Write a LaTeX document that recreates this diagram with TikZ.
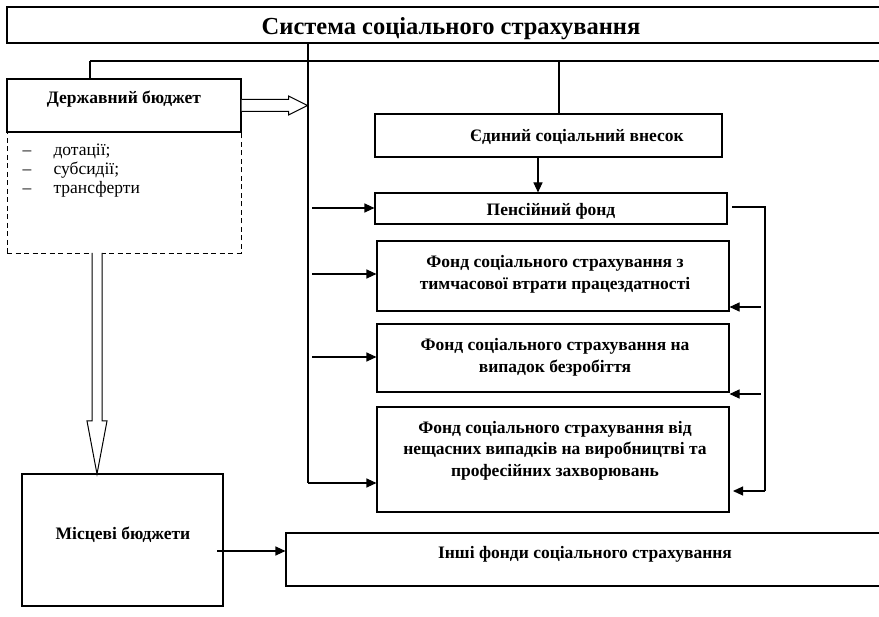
\documentclass[tikz,border=0pt]{standalone}
\usepackage{fontspec}
\setmainfont{Liberation Serif}
\usetikzlibrary{arrows.meta,fit,calc}
\begin{document}
\begin{tikzpicture}[x=1pt,y=-1pt,line width=1.1pt,
  box/.style={draw,rectangle,inner sep=0pt},
  dbox/.style={draw,rectangle,inner sep=0pt,dash pattern=on 5pt off 3.5pt,line width=0.9pt},
  lbl/.style={font=\fontsize{17.5}{21.5}\selectfont\bfseries,align=center,inner sep=0pt},
  itm/.style={font=\fontsize{17.5}{19}\selectfont,anchor=base west,inner sep=0pt},
  con/.style={-{Triangle[length=10pt,width=9pt]},line width=1.1pt},
  hollow/.style={draw,line width=1pt,fill=white}]
\useasboundingbox (0,0) rectangle (879,617);
\clip (0,0) rectangle (879,617);
% title
\node[box,fit={(7,7) (900,43)}] (title) {};
\node[lbl,font=\fontsize{24.5}{26}\selectfont\bfseries] (titlet) at (451,28.5) {Система соціального страхування};
% top line
\coordinate (tl) at (90,61);
\coordinate (tr) at (900,61);
\coordinate (tm) at (559,61);
\draw (tl) -- (tr);
% state budget
\node[box,fit={(7,79) (241,132)}] (db) {};
\node[lbl] (dbt) at (124,99) {Державний бюджет};
\node[dbox,fit={(7,132) (241,253)}] (dd) {};
\node[itm] (d1) at (22,156) {–};
\node[itm] (i1) at (53,156) {дотації;};
\node[itm] (d2) at (22,175) {–};
\node[itm] (i2) at (53,175) {субсидії;};
\node[itm] (d3) at (22,194) {–};
\node[itm] (i3) at (53,194) {трансферти};
\draw (tl) -- (tl |- db.north);
% main vertical line
\coordinate (mtop) at (308,43);
\coordinate (mbot) at (308,483);
\draw (mtop) -- (mbot);
% hollow arrow right
\draw[hollow] ($(db.east)+(0,-6)$) -- ++(47,0) -- ++(0,-3.5) -- ($(db.east)+(66,0)$) -- ($(db.east)+(47,9.5)$) -- ++(0,-3.5) -- ($(db.east)+(0,6)$);
% single contribution
\node[box,fit={(375,114) (722,157)}] (ev) {};
\node[lbl] (evt) at (577,137) {Єдиний соціальний внесок};
\draw (tm) -- (tm |- ev.north);
% pension fund
\node[box,fit={(375,193) (727,224)}] (pf) {};
\node[lbl] (pft) at (551,211) {Пенсійний фонд};
\coordinate (evs) at (538,157);
\draw[con] (evs) -- (evs |- pf.north);
% temp
\node[box,fit={(377,241) (729,311)}] (f1) {};
\node[lbl] (f1t) at (555,274.5) {Фонд соціального страхування з\\тимчасової втрати працездатності};
% unemployment
\node[box,fit={(377,324) (729,392)}] (f2) {};
\node[lbl] (f2t) at (555,357.5) {Фонд соціального страхування на\\випадок безробіття};
% accidents
\node[box,fit={(377,407) (729,512)}] (f3) {};
\node[lbl] (f3t) at (555,450.5) {Фонд соціального страхування від\\нещасних випадків на виробництві та\\професійних захворювань};
% arrows from main line
\coordinate (a0) at (312,208);
\coordinate (a1) at (312,274);
\coordinate (a2) at (312,357);
\draw[con] (a0) -- (a0 -| pf.west);
\draw[con] (a1) -- (a1 -| f1.west);
\draw[con] (a2) -- (a2 -| f2.west);
\draw[con] (mbot) -- (mbot -| f3.west);
% right bracket
\coordinate (r0) at (732,207);
\coordinate (r1) at (765,207);
\coordinate (r2) at (765,491);
\coordinate (r3) at (733,491);
\draw (r0) -- (r1) -- (r2);
\draw[con] (r2) -- (r3);
\coordinate (b1) at (761,307);
\coordinate (b2) at (761,394);
\draw[con] (b1) -- (b1 -| f1.east);
\draw[con] (b2) -- (b2 -| f2.east);
% local budgets
\node[box,fit={(22,474) (223,606)}] (mb) {};
\node[lbl] (mbt) at (123,535) {Місцеві бюджети};
% hollow arrow down
\coordinate (ha) at (97,253);
\coordinate (hb) at (97,474);
\draw[hollow] ($(ha)+(-5,0)$) -- ($(hb)+(-5,-53)$) -- ($(hb)+(-10,-53)$) -- (hb) -- ($(hb)+(10,-53)$) -- ($(hb)+(5,-53)$) -- ($(ha)+(5,0)$);
% other funds
\node[box,fit={(286,533) (900,586)}] (of) {};
\node[lbl] (oft) at (585,554) {Інші фонди соціального страхування};
\coordinate (ma) at (217,551);
\draw[con] (ma) -- (ma -| of.west);
\end{tikzpicture}
\end{document}
